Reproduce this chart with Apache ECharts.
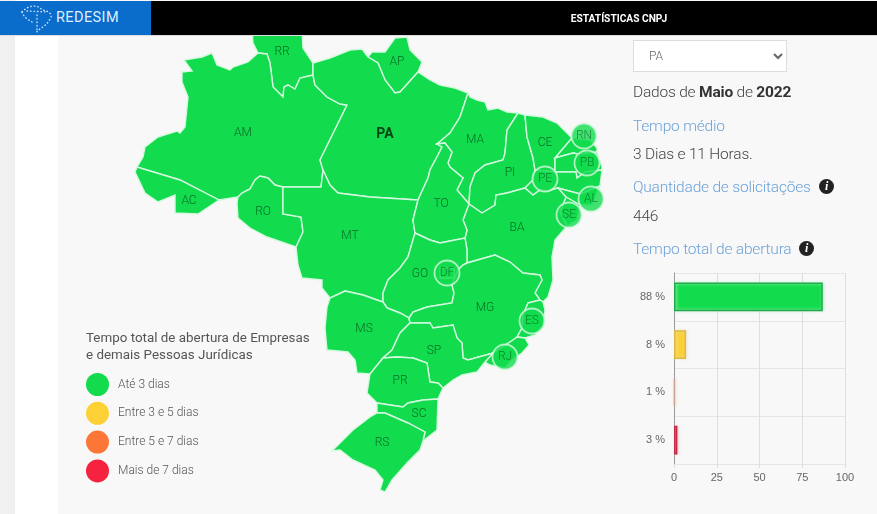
<!DOCTYPE html>
<html lang="pt-BR">
<head>
<meta charset="utf-8">
<title>Estatísticas CNPJ</title>
<script src="https://cdn.jsdelivr.net/npm/echarts@6/dist/echarts.min.js"></script>
<style>
  html, body { margin: 0; width: 877px; height: 514px; overflow: hidden; background: #f0f0f0; font-family: Roboto, sans-serif; }
  #white { position: absolute; left: 15px; top: 0; width: 43px; height: 514px; background: #fff; }
  #panel { position: absolute; left: 58px; top: 0; width: 819px; height: 514px; background: #f8f8f8; }
  #chart { position: absolute; left: 0; top: 0; width: 877px; height: 514px; }
  #header { position: absolute; left: 0; top: 1px; width: 877px; height: 34px; background: #000; border-bottom: 1px solid #ddd; }
  #brand { position: absolute; left: 0; top: 0; width: 151px; height: 34px; background: #0a6ccb; }
  #brand svg { position: absolute; left: 20px; top: 2px; }
  #brand span { position: absolute; left: 56px; top: 8px; color: #dfeeff; font-size: 14.5px; letter-spacing: .4px; }
  #heading { position: absolute; left: 500px; width: 238px; top: 12px; text-align: center; color: #fff; font-size: 10.2px; font-weight: 700; }
  #side div, #side select { position: absolute; left: 633px; white-space: nowrap; }
  #side select { top: 40px; width: 154px; height: 32px; padding-left: 11px; background: #fff; border: 1px solid #ddd; color: #666; font: 300 12px Roboto, sans-serif; }
  #side div { font-size: 15.5px; letter-spacing: -.2px; font-weight: 300; color: #444; line-height: 20px; }
  #side .blue { color: #6da2d8; }
  #side b { font-weight: 700; color: #333; }
  .info { position: absolute; top: 2px; width: 15px; height: 15px; border-radius: 50%; background: #222; color: #fff; font: italic 700 12px/15px "Liberation Serif", serif; text-align: center; }
</style>
</head>
<body>
<div id="white"></div>
<div id="panel"></div>
<div id="chart"></div>
<div id="header">
  <div id="brand">
    <svg width="34" height="32" viewBox="0 0 34 32" fill="none" stroke="#cfe4fb" stroke-width="1.4" stroke-linecap="round" stroke-dasharray="0.5 3">
      <path d="M2 9 C8 2 18 1 22 7 C30 8 33 12 30 16 C26 24 20 24 15 31"/>
      <path d="M2 9 C4 15 9 17 12 19 M17 12 L17 27 M7 8 L27 9"/>
    </svg>
    <span>REDESIM</span>
  </div>
  <div id="heading">ESTATÍSTICAS CNPJ</div>
</div>
<div id="side">
  <select><option>PA</option></select>
  <div style="top:82px">Dados de <b>Maio</b> de <b>2022</b></div>
  <div class="blue" style="top:116px">Tempo médio</div>
  <div style="top:144px">3 Dias e 11 Horas.</div>
  <div class="blue" style="top:177px">Quantidade de solicitações<span class="info" style="left:186px">i</span></div>
  <div style="top:206px">446</div>
  <div class="blue" style="top:239px">Tempo total de abertura<span class="info" style="left:166px">i</span></div>
</div>
<script>
var stateCodes = ['RR', 'AP', 'AM', 'PA', 'AC', 'RO', 'MT', 'MA', 'PI', 'CE', 'RN', 'PB', 'PE', 'AL', 'SE', 'BA', 'TO', 'GO', 'DF', 'MS', 'MG', 'ES', 'RJ', 'SP', 'PR', 'SC', 'RS'];
var stateBuckets = [0, 0, 0, 0, 0, 0, 0, 0, 0, 0, 0, 0, 0, 0, 0, 0, 0, 0, 0, 0, 0, 0, 0, 0, 0, 0, 0];
var insetStates = ['RN', 'PB', 'PE', 'AL', 'SE', 'ES', 'RJ', 'DF'];
var selectedState = 'PA';

var legendLabels = ['Até 3 dias', 'Entre 3 e 5 dias', 'Entre 5 e 7 dias', 'Mais de 7 dias'];
var legendColors = ['#12dc4d', '#fdd035', '#fb7637', '#f5233f'];

var barLabels = ['88 %', '8 %', '1 %', '3 %'];
var barValues = [87, 7, 0.5, 2];
var barBorders = ['#22a94c', '#dcb83c', '#c9a08c', '#c22a45'];
var barHalos = ['#b6ecc6', '#e6dfba', '#eadfd9', '#eed3d8'];
var xTicks = [0, 25, 50, 75, 100];

// map outlines, in map units (same scale as the page)
var stateShapes = {
  RR: { cp: [282, 52], ring: [[252,30],[253,43],[258,53],[267,54],[270,63],[273,87],[283,97],[284,87],[288,85],[295,89],[300,78],[313,75],[313,63],[303,48],[302,30]] },
  AP: { cp: [397, 62], ring: [[368,57],[372,52],[385,52],[395,38],[407,37],[410,50],[422,62],[418,72],[400,92],[395,93],[385,80],[378,63]] },
  AM: { cp: [243, 133], ring: [[137,167],[143,157],[145,147],[158,137],[177,131],[180,133],[185,127],[188,97],[182,82],[182,72],[192,71],[184,60],[202,57],[212,53],[217,65],[230,70],[233,67],[248,62],[258,53],[267,54],[270,63],[273,87],[283,97],[284,87],[288,85],[295,89],[300,78],[313,75],[315,85],[327,97],[340,104],[347,105],[320,160],[323,170],[321,187],[283,187],[275,185],[268,178],[260,176],[255,180],[250,189],[242,193],[238,197],[219,200],[180,180]] },
  PA: { cp: [385, 134], ring: [[313,75],[313,63],[330,58],[350,50],[362,49],[368,57],[378,63],[385,80],[395,93],[400,92],[418,72],[430,80],[440,85],[455,88],[468,93],[460,117],[450,133],[437,144],[442,147],[438,155],[430,170],[428,178],[418,200],[370,197],[338,193],[330,185],[323,170],[320,160],[347,105],[340,104],[327,97],[315,85]] },
  AC: { cp: [189, 201], ring: [[137,167],[135,172],[145,193],[158,202],[175,195],[175,213],[198,214],[219,200],[180,180]] },
  RO: { cp: [263, 212], ring: [[238,197],[242,193],[250,189],[255,180],[260,176],[268,178],[275,185],[283,187],[283,214],[301,217],[303,232],[296,247],[267,237],[250,228],[238,218],[237,203]] },
  MT: { cp: [350, 236], ring: [[283,187],[321,187],[323,170],[330,185],[338,193],[370,197],[418,200],[413,220],[415,233],[408,257],[400,268],[388,280],[383,293],[383,302],[377,300],[363,295],[345,291],[330,298],[322,288],[322,280],[302,278],[298,265],[296,247],[303,232],[301,217],[283,214]] },
  MA: { cp: [475, 140], ring: [[468,93],[470,97],[477,100],[485,102],[488,110],[498,108],[507,112],[518,113],[507,130],[505,153],[503,160],[485,165],[475,173],[470,187],[469,204],[457,190],[463,178],[450,167],[448,163],[452,152],[445,143],[437,144],[450,133],[460,117]] },
  PI: { cp: [510, 173], ring: [[518,113],[525,115],[527,137],[533,158],[535,170],[533,180],[525,188],[507,193],[496,195],[495,205],[482,213],[469,204],[470,187],[475,173],[485,165],[503,160],[505,153],[507,130]] },
  CE: { cp: [545, 143], ring: [[525,115],[543,117],[557,123],[572,138],[555,158],[555,172],[535,170],[533,158],[527,137]] },
  RN: { cp: [584, 136], ring: [[572,138],[590,140],[597,148],[597,152],[578,154],[573,153],[555,158]] },
  PB: { cp: [587, 163], ring: [[555,158],[573,153],[578,154],[597,152],[602,167],[602,170],[585,172],[577,178],[576,172],[555,172]] },
  PE: { cp: [545, 179], ring: [[535,170],[555,172],[576,172],[577,178],[585,172],[602,170],[600,186],[580,194],[558,188],[547,191],[540,190],[533,195],[525,188],[533,180]] },
  AL: { cp: [591, 199], ring: [[558,188],[580,194],[600,186],[592,205],[580,205],[566,197]] },
  SE: { cp: [569, 215], ring: [[566,197],[580,205],[577,220],[567,226],[560,212]] },
  BA: { cp: [517, 228], ring: [[465,238],[467,230],[463,220],[469,204],[482,213],[495,205],[496,195],[507,193],[525,188],[533,195],[540,190],[547,191],[558,188],[566,197],[560,212],[567,226],[555,240],[552,257],[553,280],[548,297],[543,302],[540,300],[535,293],[542,280],[540,275],[523,273],[510,262],[495,255],[467,263],[467,250]] },
  TO: { cp: [441, 204], ring: [[437,144],[445,143],[452,152],[448,163],[450,167],[463,178],[457,190],[469,204],[463,220],[467,230],[465,238],[440,243],[430,240],[415,233],[413,220],[418,200],[428,178],[430,170],[438,155],[442,147]] },
  GO: { cp: [420, 274], ring: [[415,233],[430,240],[440,243],[465,238],[467,250],[467,263],[463,265],[458,270],[452,285],[454,293],[452,303],[427,307],[413,312],[409,318],[400,313],[387,308],[383,302],[383,293],[388,280],[400,268],[408,257]] },
  DF: { cp: [447, 273], ring: [[440,268],[454,268],[454,278],[440,278]] },
  MS: { cp: [364, 329], ring: [[383,302],[387,308],[400,313],[409,318],[410,323],[400,333],[392,350],[383,358],[370,374],[357,373],[355,360],[348,352],[327,350],[325,328],[327,307],[330,298],[345,291],[363,295],[377,300]] },
  MG: { cp: [485, 308], ring: [[409,318],[413,312],[427,307],[452,303],[454,293],[452,285],[458,270],[463,265],[467,263],[495,255],[510,262],[523,273],[540,275],[542,280],[535,293],[540,300],[528,303],[523,315],[522,328],[517,337],[513,340],[493,353],[468,360],[463,358],[462,343],[457,338],[453,325],[433,328],[430,323],[410,323]] },
  ES: { cp: [532, 321], ring: [[528,303],[540,300],[543,302],[545,310],[543,325],[535,335],[525,338],[517,337],[522,328],[523,315]] },
  RJ: { cp: [505, 357], ring: [[493,353],[513,340],[517,337],[525,338],[529,345],[522,353],[512,360],[505,368],[490,365],[485,362]] },
  SP: { cp: [434, 351], ring: [[410,323],[430,323],[433,328],[453,325],[457,338],[462,343],[463,358],[468,360],[493,353],[485,362],[477,372],[462,375],[453,380],[443,388],[438,383],[430,382],[427,363],[413,358],[397,357],[383,358],[392,350],[400,333]] },
  PR: { cp: [400, 381], ring: [[370,374],[383,358],[397,357],[413,358],[427,363],[430,382],[438,383],[443,388],[438,399],[423,400],[408,403],[403,407],[377,403],[367,393]] },
  SC: { cp: [419, 414], ring: [[377,403],[403,407],[408,403],[423,400],[438,399],[437,430],[423,441],[425,432],[408,423],[385,413],[377,413]] },
  RS: { cp: [382, 443], ring: [[377,413],[385,413],[408,423],[425,432],[423,441],[420,450],[407,463],[392,480],[385,492],[380,490],[383,480],[375,470],[353,460],[340,450],[332,451],[353,430],[370,417]] }
};

var brazil = {
  type: 'FeatureCollection',
  features: stateCodes.map(function (code) {
    return {
      type: 'Feature',
      properties: { name: code, cp: stateShapes[code].cp },
      geometry: { type: 'Polygon', coordinates: [stateShapes[code].ring] }
    };
  })
};
echarts.registerMap('brazil', brazil);

var labelColor = 'rgba(0, 60, 20, 0.72)';
var lineColor = '#d5f8e0';
var regionRules = insetStates.map(function (code) {
  return { name: code, label: { show: false } };
});
regionRules.push({ name: selectedState, label: { fontWeight: 700, fontSize: 14, color: 'rgba(0, 40, 10, 0.85)' } });

var chart = echarts.init(document.getElementById('chart'));
chart.setOption({
  animation: false,
  title: {
    text: 'Tempo total de abertura de Empresas\ne demais Pessoas Jurídicas',
    left: 86,
    top: 330,
    padding: 0,
    textStyle: { fontFamily: 'Roboto', fontWeight: 400, fontSize: 13.4, lineHeight: 17, color: '#555' }
  },
  geo: {
    map: 'brazil',
    projection: {
      project: function (p) { return p; },
      unproject: function (p) { return p; }
    },
    boundingCoords: [[0, 0], [877, 514]],
    left: 0,
    top: 0,
    width: 877,
    height: 514,
    roam: false,
    silent: true,
    itemStyle: { areaColor: legendColors[0], borderColor: lineColor, borderWidth: 1.4 },
    label: { show: true, fontFamily: 'Roboto', fontWeight: 300, fontSize: 12, color: labelColor },
    regions: regionRules
  },
  visualMap: {
    type: 'piecewise',
    seriesIndex: 0,
    left: 86,
    top: 373,
    padding: 0,
    inverse: true,
    orient: 'vertical',
    itemSymbol: 'circle',
    itemWidth: 23,
    itemHeight: 23,
    itemGap: 5.8,
    textGap: 9,
    selectedMode: false,
    hoverLink: false,
    textStyle: { fontFamily: 'Roboto', fontWeight: 300, fontSize: 12, color: '#555' },
    pieces: legendLabels.map(function (label, i) {
      return { value: i, label: label, color: legendColors[i] };
    })
  },
  grid: { left: 674, right: 32, top: 273, bottom: 50 },
  xAxis: {
    type: 'value',
    min: xTicks[0],
    max: xTicks[xTicks.length - 1],
    interval: xTicks[1] - xTicks[0],
    axisLine: { show: false },
    axisTick: { show: true, length: 4, lineStyle: { color: '#ddd' } },
    axisLabel: { color: '#666', fontFamily: 'Liberation Sans', fontSize: 11, margin: 8 },
    splitLine: { lineStyle: { color: '#dedede' } }
  },
  yAxis: {
    type: 'category',
    inverse: true,
    data: barLabels,
    axisLine: { lineStyle: { color: '#999' } },
    axisTick: { length: 11, lineStyle: { color: '#e4e4e4' } },
    axisLabel: { color: '#666', fontFamily: 'Liberation Sans', fontSize: 11, margin: 9 },
    splitLine: { show: true, lineStyle: { color: '#e6e6e6' } }
  },
  series: [
    {
      type: 'map',
      geoIndex: 0,
      data: stateCodes.map(function (code, i) {
        return { name: code, value: stateBuckets[i] };
      })
    },
    {
      type: 'scatter',
      coordinateSystem: 'geo',
      geoIndex: 0,
      silent: true,
      z: 5,
      symbolSize: 25,
      itemStyle: { color: legendColors[0], borderColor: lineColor, borderWidth: 1.8 },
      label: {
        show: true,
        position: 'inside',
        formatter: '{b}',
        fontFamily: 'Roboto',
        fontWeight: 300,
        fontSize: 12,
        color: labelColor
      },
      data: insetStates.map(function (code) {
        return { name: code, value: stateShapes[code].cp };
      })
    },
    {
      type: 'bar',
      xAxisIndex: 0,
      yAxisIndex: 0,
      barCategoryGap: '40%',
      silent: true,
      data: barValues.map(function (value, i) {
        return {
          value: value,
          itemStyle: {
            color: legendColors[i],
            borderColor: barBorders[i],
            borderWidth: 1.5,
            shadowColor: barHalos[i],
            shadowBlur: 3,
            shadowOffsetX: 1
          }
        };
      })
    }
  ]
});
</script>
</body>
</html>
